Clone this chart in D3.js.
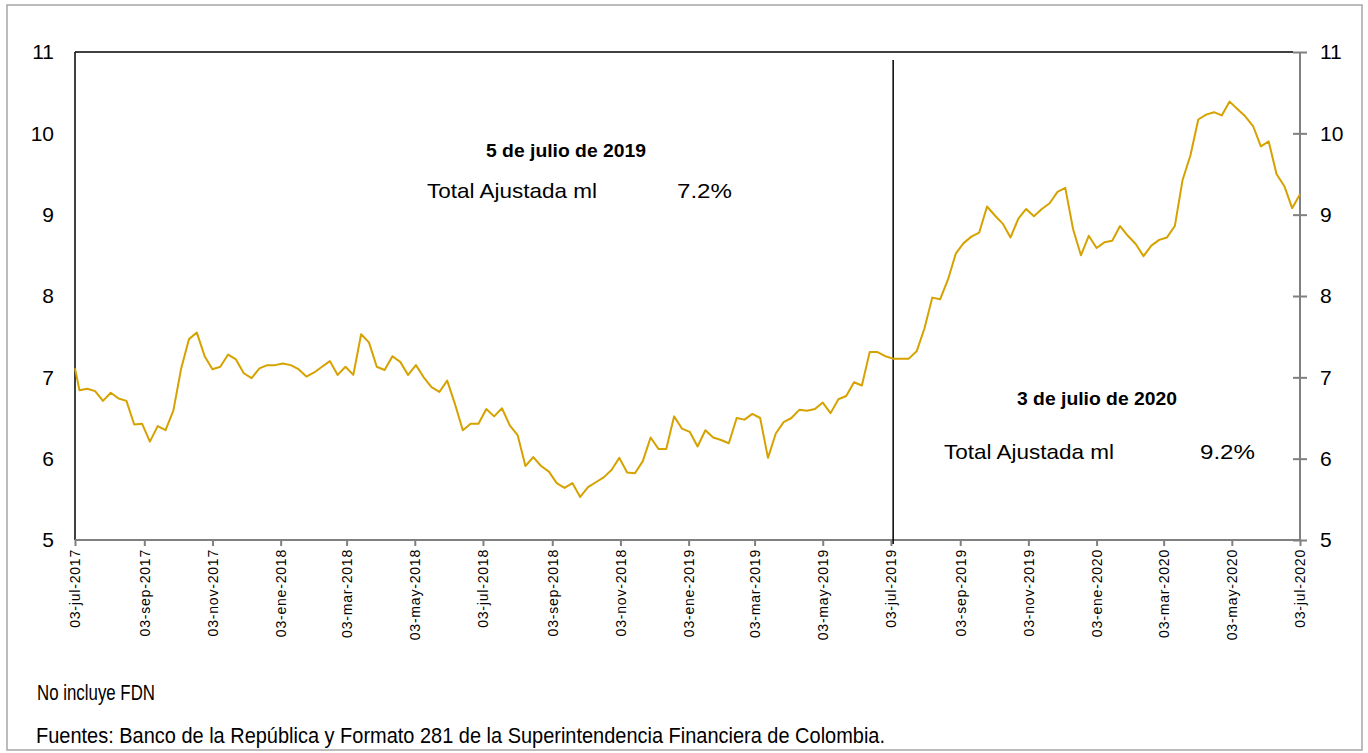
<!DOCTYPE html>
<html>
<head>
<meta charset="utf-8">
<script src="https://cdn.jsdelivr.net/npm/d3@7"></script>
<style>
    body { margin: 0; background: #fff; }
    svg { display: block; font-family: 'Liberation Sans', Arial, sans-serif; }
</style>
</head>
<body>
<svg id="chart" width="1368" height="753"></svg>
<script>
// primera observacion (lunes 03-jul-2017) y luego viernes semanales
const firstDate = '2017-07-03';
const firstFriday = '2017-07-07';
const lastFriday = '2020-07-03';

const values = [
    7.11,
    6.84, 6.86, 6.83, 6.71, 6.81, 6.74, 6.71, 6.42, 6.43, 6.21,
    6.40, 6.35, 6.59, 7.11, 7.47, 7.55, 7.26, 7.10, 7.13, 7.28,
    7.22, 7.05, 6.99, 7.11, 7.15, 7.15, 7.17, 7.15, 7.10, 7.01,
    7.06, 7.13, 7.20, 7.03, 7.13, 7.03, 7.53, 7.43, 7.13, 7.09,
    7.26, 7.19, 7.03, 7.15, 7.00, 6.88, 6.82, 6.96, 6.67, 6.35,
    6.43, 6.43, 6.61, 6.52, 6.62, 6.41, 6.29, 5.91, 6.02, 5.91,
    5.84, 5.70, 5.64, 5.70, 5.53, 5.65, 5.71, 5.77, 5.86, 6.01,
    5.83, 5.82, 5.97, 6.26, 6.12, 6.12, 6.52, 6.37, 6.33, 6.15,
    6.35, 6.26, 6.23, 6.19, 6.50, 6.48, 6.55, 6.50, 6.01, 6.31,
    6.45, 6.50, 6.60, 6.59, 6.61, 6.69, 6.56, 6.73, 6.77, 6.94,
    6.90, 7.31, 7.31, 7.26, 7.23, 7.23, 7.23, 7.32, 7.60, 7.98,
    7.96, 8.20, 8.52, 8.65, 8.73, 8.78, 9.10, 8.99, 8.89, 8.72,
    8.95, 9.07, 8.98, 9.07, 9.14, 9.28, 9.33, 8.82, 8.50, 8.74,
    8.59, 8.66, 8.68, 8.86, 8.74, 8.64, 8.49, 8.62, 8.69, 8.72,
    8.86, 9.43, 9.73, 10.17, 10.23, 10.26, 10.22, 10.39, 10.30, 10.21,
    10.09, 9.84, 9.90, 9.50, 9.35, 9.08, 9.25,
];

const yTicks = [5, 6, 7, 8, 9, 10, 11];
const monthNames = ['ene', 'feb', 'mar', 'abr', 'may', 'jun', 'jul', 'ago', 'sep', 'oct', 'nov', 'dic'];

const markerDate = '2019-07-05';
const notes = [
    { title: '5 de julio de 2019', label: 'Total Ajustada ml', value: '7.2%' },
    { title: '3 de julio de 2020', label: 'Total Ajustada ml', value: '9.2%' },
];
const footnotes = ['No incluye FDN', 'Fuentes: Banco de la República y Formato 281 de la Superintendencia Financiera de Colombia.'];

const parse = d3.timeParse('%Y-%m-%d');
const dates = [parse(firstDate)].concat(
    d3.timeFriday.range(parse(firstFriday), d3.timeDay.offset(parse(lastFriday), 1))
);
const data = dates.map((d, i) => ({ date: d, value: values[i] }));

const svg = d3.select('#chart');
const plotLeft = 75;
const plotRight = 1300;
const plotTop = 52;
const plotBottom = 540;

const x = d3.scaleTime().domain([parse(firstDate), parse(lastFriday)]).range([plotLeft, plotRight]);
const y = d3.scaleLinear().domain([5, 11]).range([plotBottom, plotTop]);

// marco exterior
svg.append('rect')
    .attr('x', 7).attr('y', 5)
    .attr('width', 1355).attr('height', 745)
    .attr('fill', '#fff')
    .attr('stroke', '#a6a6a6')
    .attr('stroke-width', 1.5);

// borde del area de grafico
svg.append('line')
    .attr('x1', plotLeft).attr('x2', plotRight - 7)
    .attr('y1', plotTop).attr('y2', plotTop)
    .attr('stroke', '#000').attr('stroke-width', 1.5);
svg.append('line')
    .attr('x1', plotLeft).attr('x2', plotLeft)
    .attr('y1', plotTop).attr('y2', plotBottom)
    .attr('stroke', '#000').attr('stroke-width', 1.5);

// eje derecho
const yRight = svg.append('g')
    .attr('transform', `translate(${plotRight},0)`)
    .call(d3.axisRight(y).tickValues(yTicks).tickSize(7).tickPadding(13).tickFormat(d3.format('d')));
yRight.select('.domain').attr('stroke', '#808080').attr('stroke-width', 2).attr('d', `M0,${plotTop}V${plotBottom}`);
yRight.selectAll('.tick line').attr('stroke', '#808080').attr('stroke-width', 2).attr('x1', -7);
yRight.selectAll('.tick text').attr('font-size', 21).attr('fill', '#000').attr('font-family', null);

// eje izquierdo (solo etiquetas)
const yLeft = svg.append('g')
    .attr('transform', `translate(${plotLeft},0)`)
    .call(d3.axisLeft(y).tickValues(yTicks).tickSize(0).tickPadding(21).tickFormat(d3.format('d')));
yLeft.select('.domain').remove();
yLeft.selectAll('.tick text').attr('font-size', 21).attr('fill', '#000').attr('font-family', null);

// eje de fechas: dia 3 de cada dos meses
const xTicks = d3.timeMonth.every(2)
    .range(d3.timeMonth.floor(parse(firstDate)), d3.timeDay.offset(parse(lastFriday), 1))
    .map((d) => d3.timeDay.offset(d, 2));
const xFormat = (d) => `${d3.timeFormat('%d')(d)}-${monthNames[d.getMonth()]}-${d.getFullYear()}`;

const xAxis = svg.append('g')
    .attr('transform', `translate(0,${plotBottom})`)
    .call(d3.axisBottom(x).tickValues(xTicks).tickSize(6).tickFormat(xFormat));
xAxis.select('.domain').attr('stroke', '#808080').attr('stroke-width', 2).attr('d', `M${plotLeft},0H${plotRight}`);
xAxis.selectAll('.tick line').attr('stroke', '#808080').attr('stroke-width', 2);
xAxis.selectAll('.tick text')
    .attr('font-size', 14)
    .attr('font-family', null)
    .attr('letter-spacing', 0.8)
    .attr('fill', '#000')
    .attr('text-anchor', 'end')
    .attr('transform', 'rotate(-90)')
    .attr('x', -9)
    .attr('y', 0)
    .attr('dy', '0.35em');

// linea vertical en la fecha de corte
svg.append('line')
    .attr('x1', x(parse(markerDate))).attr('x2', x(parse(markerDate)))
    .attr('y1', plotTop + 8).attr('y2', plotBottom + 4)
    .attr('stroke', '#000').attr('stroke-width', 1.5);

// serie
const line = d3.line().x((d) => x(d.date)).y((d) => y(d.value));
svg.append('path')
    .datum(data)
    .attr('fill', 'none')
    .attr('stroke', '#d6a200')
    .attr('stroke-width', 2)
    .attr('stroke-linejoin', 'round')
    .attr('d', line);

// anotaciones
const notePos = [
    { cx: 566, ty: 157, lx: 427, vx: 677, ly: 198 },
    { cx: 1097, ty: 405, lx: 944, vx: 1200, ly: 459 },
];
notes.forEach((n, i) => {
    const p = notePos[i];
    svg.append('text')
        .attr('x', p.cx).attr('y', p.ty)
        .attr('text-anchor', 'middle')
        .attr('font-size', 19).attr('font-weight', 'bold')
        .attr('textLength', 160).attr('lengthAdjust', 'spacingAndGlyphs')
        .text(n.title);
    svg.append('text')
        .attr('x', p.lx).attr('y', p.ly)
        .attr('font-size', 21)
        .attr('textLength', 170).attr('lengthAdjust', 'spacingAndGlyphs')
        .text(n.label);
    svg.append('text')
        .attr('x', p.vx).attr('y', p.ly)
        .attr('font-size', 21)
        .attr('textLength', 55).attr('lengthAdjust', 'spacingAndGlyphs')
        .text(n.value);
});

// notas al pie
svg.append('text')
    .attr('x', 37).attr('y', 700)
    .attr('font-size', 22)
    .attr('textLength', 118).attr('lengthAdjust', 'spacingAndGlyphs')
    .text(footnotes[0]);
svg.append('text')
    .attr('x', 36).attr('y', 743)
    .attr('font-size', 22)
    .attr('textLength', 849).attr('lengthAdjust', 'spacingAndGlyphs')
    .text(footnotes[1]);
</script>
</body>
</html>
